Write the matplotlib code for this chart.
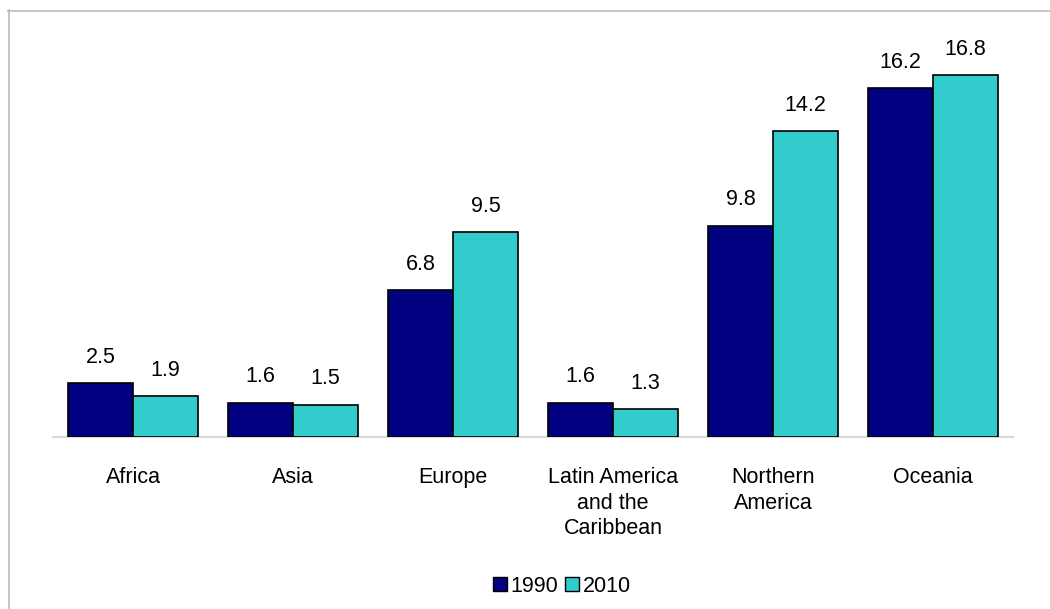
import matplotlib
matplotlib.use("Agg")
import matplotlib.pyplot as plt
from matplotlib.lines import Line2D
from matplotlib.patches import Patch
import numpy as np

categories = ["Africa", "Asia", "Europe", "Latin America\nand the\nCaribbean",
              "Northern\nAmerica", "Oceania"]
values_1990 = [2.5, 1.6, 6.8, 1.6, 9.8, 16.2]
values_2010 = [1.9, 1.5, 9.5, 1.3, 14.2, 16.8]
series_names = ["1990", "2010"]

plt.rcParams['font.family'] = ['Liberation Sans', 'DejaVu Sans']
FS = 15.5

W, H = 1050, 609
fig = plt.figure(figsize=(W / 100, H / 100), dpi=100)

# axes placed in pixel coordinates
x0, x1 = 53, 1013
y_base, y_top = 437, 49
ax = fig.add_axes([x0 / W, 1 - y_base / H, (x1 - x0) / W, (y_base - y_top) / H])

c1990 = "#000080"
c2010 = "#33CCCC"
bw = 0.40625
x = np.arange(len(categories))
b1 = ax.bar(x - bw / 2, values_1990, bw, color=c1990, edgecolor="black", linewidth=1.2, zorder=3)
b2 = ax.bar(x + bw / 2, values_2010, bw, color=c2010, edgecolor="black", linewidth=1.2, zorder=3)

for bars, vals in ((b1, values_1990), (b2, values_2010)):
    for rect, v in zip(bars, vals):
        ax.annotate(f"{v:.1f}", (rect.get_x() + rect.get_width() / 2, v),
                    xytext=(0, 11), textcoords="offset points",
                    ha="center", va="bottom", fontsize=FS, color="black")

ax.set_xlim(-0.5, len(categories) - 0.5)
ax.set_ylim(0, 18)
for s in ("top", "right", "left"):
    ax.spines[s].set_visible(False)
ax.spines["bottom"].set_color("#d9d9d9")
ax.spines["bottom"].set_linewidth(1.5)
ax.set_yticks([])
ax.set_xticks(x)
ax.set_xticklabels(categories, fontsize=FS, linespacing=1.3, va="top")
ax.tick_params(axis="x", length=0, pad=21.5)

handles = [Patch(facecolor=c1990, edgecolor="black", linewidth=1.0),
           Patch(facecolor=c2010, edgecolor="black", linewidth=1.0)]
fig.legend(handles, series_names, loc="center", bbox_to_anchor=(562 / W, 1 - 586 / H),
           ncol=2, frameon=False, fontsize=FS, handlelength=0.65, handleheight=0.65,
           handletextpad=0.2, columnspacing=0.3, borderpad=0.2)

# outer chart border (top and left visible)
fig.add_artist(Line2D([8 / W, 1], [1 - 10.5 / H, 1 - 10.5 / H], transform=fig.transFigure,
                      color="#c0c0c0", linewidth=1.3))
fig.add_artist(Line2D([8.5 / W, 8.5 / W], [1 - 10 / H, 0], transform=fig.transFigure,
                      color="#c0c0c0", linewidth=1.3))

fig.savefig("out.png", dpi=100)
